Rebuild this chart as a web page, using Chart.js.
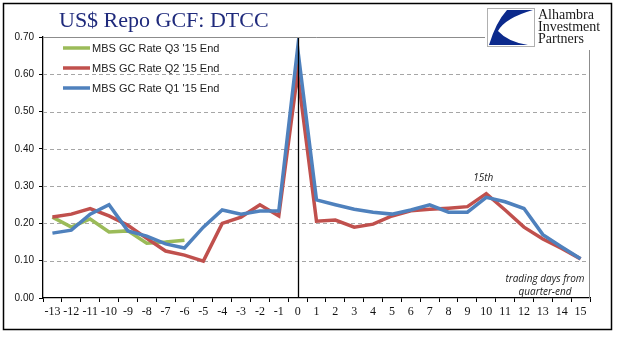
<!DOCTYPE html>
<html>
<head>
<meta charset="utf-8">
<script src="https://cdn.jsdelivr.net/npm/chart.js@4.4.1/dist/chart.umd.min.js"></script>
<style>
    html, body { margin: 0; padding: 0; background: #fff; }
    #wrap { position: relative; width: 618px; height: 341px; }
</style>
</head>
<body>
<div id="wrap"><canvas id="repoChart" width="618" height="341"></canvas></div>
<script>
// Данные графика
const days = ['-13','-12','-11','-10','-9','-8','-7','-6','-5','-4','-3','-2','-1','0',
              '1','2','3','4','5','6','7','8','9','10','11','12','13','14','15'];
const q3Rate = [0.217, 0.19, 0.212, 0.177, 0.18, 0.147, 0.15, 0.155];
const q2Rate = [0.217, 0.225, 0.24, 0.22, 0.195, 0.16, 0.126, 0.115, 0.099, 0.2, 0.217, 0.25, 0.22, 0.603,
                0.206, 0.209, 0.19, 0.198, 0.22, 0.234, 0.238, 0.241, 0.245, 0.28, 0.236, 0.19, 0.158, 0.133, 0.105];
const q1Rate = [0.174, 0.182, 0.225, 0.25, 0.18, 0.166, 0.145, 0.134, 0.19, 0.236, 0.225, 0.233, 0.233, 0.67,
                0.263, 0.25, 0.238, 0.23, 0.225, 0.236, 0.25, 0.23, 0.23, 0.27, 0.258, 0.24, 0.17, 0.137, 0.105];
const yTicks = [0, 0.1, 0.2, 0.3, 0.4, 0.5, 0.6, 0.7];

const seriesNames = ["MBS GC Rate Q3 '15 End", "MBS GC Rate Q2 '15 End", "MBS GC Rate Q1 '15 End"];
const seriesColors = ['#9bbb59', '#c0504d', '#4f81bd'];

// Пунктирная сетка под линиями
const gridPlugin = {
    id: 'dashGrid',
    beforeDatasetsDraw(chart) {
        const ctx = chart.ctx;
        const area = chart.chartArea;
        const y = chart.scales.y;
        ctx.save();
        ctx.strokeStyle = '#a6a6a6';
        ctx.lineWidth = 1;
        ctx.setLineDash([4, 3]);
        yTicks.forEach(v => {
            if (v <= 0 || v >= 0.7) return;
            const py = Math.round(y.getPixelForValue(v)) + 0.5;
            ctx.beginPath();
            ctx.moveTo(area.left, py);
            ctx.lineTo(area.right, py);
            ctx.stroke();
        });
        ctx.restore();
    }
};

// Рамка, заголовок, логотип, легенда и подписи
const decorPlugin = {
    id: 'decor',
    afterDraw(chart) {
        const ctx = chart.ctx;
        const area = chart.chartArea;
        const x = chart.scales.x;
        ctx.save();

        // вертикальная линия на нуле
        const x0 = x.getPixelForValue(days.indexOf('0'));
        ctx.strokeStyle = '#000';
        ctx.lineWidth = 1.3;
        ctx.beginPath();
        ctx.moveTo(Math.round(x0) + 0.5, area.top);
        ctx.lineTo(Math.round(x0) + 0.5, area.bottom);
        ctx.stroke();

        // граница области построения
        ctx.strokeStyle = '#8c8c8c';
        ctx.lineWidth = 1;
        ctx.beginPath();
        ctx.moveTo(area.left, area.top + 0.5);
        ctx.lineTo(area.right - 0.5, area.top + 0.5);
        ctx.lineTo(area.right - 0.5, area.bottom);
        ctx.stroke();

        // логотип
        ctx.fillStyle = '#fff';
        ctx.fillRect(485, 5, 125, 45);
        ctx.strokeStyle = '#b0b0b0';
        ctx.strokeRect(487.5, 8.5, 47, 38);
        ctx.fillStyle = '#0c2a8c';
        ctx.beginPath();
        ctx.moveTo(507, 10);
        ctx.lineTo(533, 10);
        ctx.quadraticCurveTo(505, 18, 498, 31);
        ctx.quadraticCurveTo(508, 42, 528, 45);
        ctx.lineTo(489, 45);
        ctx.quadraticCurveTo(496, 22, 507, 10);
        ctx.fill();
        ctx.fillStyle = '#1a1a1a';
        ctx.font = '14px "Liberation Serif"';
        ctx.textAlign = 'left';
        ctx.textBaseline = 'alphabetic';
        ctx.fillText('Alhambra', 538, 19);
        ctx.fillText('Investment', 538, 31);
        ctx.fillText('Partners', 538, 43);

        // заголовок
        ctx.fillStyle = '#1f2a7c';
        ctx.font = '22px "Liberation Serif"';
        ctx.fillText('US$ Repo GCF: DTCC', 59, 27);

        // легенда
        ctx.font = '11px "Liberation Sans"';
        ctx.textBaseline = 'middle';
        chart.data.datasets.forEach((ds, i) => {
            const ly = 48 + i * 20;
            ctx.strokeStyle = ds.borderColor;
            ctx.lineWidth = 3.5;
            ctx.beginPath();
            ctx.moveTo(63, ly);
            ctx.lineTo(90, ly);
            ctx.stroke();
            ctx.fillStyle = '#222';
            ctx.fillText(ds.label, 92, ly + 0.5);
        });

        // подписи
        ctx.font = 'italic 10px "Open Sans"';
        ctx.fillStyle = '#222';
        ctx.textAlign = 'center';
        ctx.fillText('15th', x.getPixelForValue(days.indexOf('10')) - 3, 178);
        ctx.fillText('trading days from', 545, 279);
        ctx.fillText('quarter-end', 545, 292);

        // внешняя рамка
        ctx.strokeStyle = '#000';
        ctx.lineWidth = 1.5;
        ctx.strokeRect(3.5, 3.5, 608, 326);
        ctx.restore();
    }
};

function makeDataset(i, values, order) {
    return {
        label: seriesNames[i],
        data: values,
        borderColor: seriesColors[i],
        backgroundColor: seriesColors[i],
        borderWidth: 3.5,
        pointRadius: 0,
        tension: 0,
        fill: false,
        order: order
    };
}

const ctx = document.getElementById('repoChart').getContext('2d');
const repoChart = new Chart(ctx, {
    type: 'line',
    data: {
        labels: days,
        datasets: [
            makeDataset(0, q3Rate, 2),
            makeDataset(1, q2Rate, 1),
            makeDataset(2, q1Rate, 0)
        ]
    },
    options: {
        responsive: false,
        animation: false,
        layout: { padding: { left: 0, top: 37, right: 28, bottom: 0 } },
        plugins: {
            legend: { display: false },
            title: { display: false },
            tooltip: { enabled: false }
        },
        scales: {
            x: {
                offset: true,
                grid: {
                    offset: true,
                    drawOnChartArea: false,
                    drawTicks: true,
                    tickLength: 4,
                    tickColor: '#000'
                },
                border: { color: '#000', width: 1.3 },
                ticks: {
                    autoSkip: false,
                    maxRotation: 0,
                    padding: 3,
                    color: '#111',
                    font: { family: 'Liberation Serif', size: 12 }
                },
                afterFit(scale) { scale.height = 43; }
            },
            y: {
                min: 0,
                max: 0.7,
                afterBuildTicks(scale) {
                    scale.ticks = yTicks.map(v => ({ value: v }));
                },
                grid: {
                    drawOnChartArea: false,
                    tickColor: '#000',
                    tickLength: 4
                },
                border: { color: '#000', width: 1.3 },
                ticks: {
                    padding: 5,
                    color: '#111',
                    font: { family: 'Liberation Sans', size: 10 },
                    callback: v => v.toFixed(2)
                },
                afterFit(scale) { scale.width = 43; }
            }
        }
    },
    plugins: [gridPlugin, decorPlugin]
});
</script>
</body>
</html>
